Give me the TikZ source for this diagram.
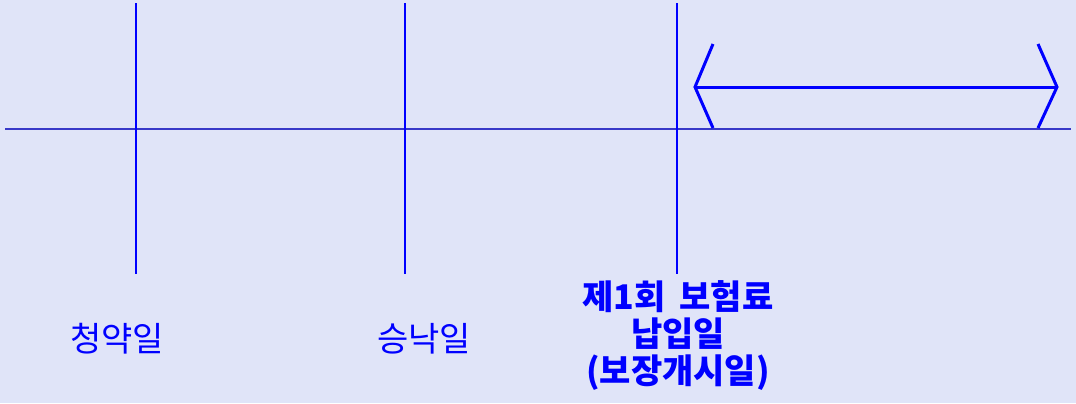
\documentclass[tikz,border=0pt]{standalone}
\usepackage{fontspec}
\newfontfamily\krfont{Noto Sans CJK KR}
\usepackage{xcolor}
\usepackage{tikz}
\usetikzlibrary{positioning}
\definecolor{paper}{RGB}{224,228,248}
\definecolor{axisblue}{RGB}{56,56,200}
\tikzstyle{every node}=[text=blue,font=\krfont\fontsize{17}{18.5}\selectfont,inner sep=0pt]
\tikzstyle{dateline}=[draw=blue,line width=0.75pt]
\tikzstyle{axis}=[draw=axisblue,line width=1pt]
\tikzstyle{period}=[draw=blue,line width=1.5pt,line join=miter]
\tikzstyle{datelabel}=[align=center]

\begin{document}
\begin{tikzpicture}[x=0.5pt,y=-0.5pt]
    \fill[paper] (0,0) rectangle (1076,403);
    \useasboundingbox (0,0) rectangle (1076,403);
    % time axis
    \coordinate (axis start) at (5,129);
    \coordinate (axis end) at (1071,129);
    \draw[axis] (axis start) -- (axis end);
    % dates
    \coordinate (apply top) at (136,3);
    \coordinate (apply bottom) at (136,274);
    \coordinate (accept top) at (405,3);
    \coordinate (accept bottom) at (405,274);
    \coordinate (pay top) at (677,3);
    \coordinate (pay bottom) at (677,274);
    \draw[dateline] (apply top) -- (apply bottom);
    \draw[dateline] (accept top) -- (accept bottom);
    \draw[dateline] (pay top) -- (pay bottom);
    \node[datelabel] (apply) at (117,339) {청약일};
    \node[datelabel] (accept) at (424,339) {승낙일};
    \node[datelabel,font=\krfont\bfseries\fontsize{17}{18.5}\selectfont] (pay) at (678,336)
        {제1회\hspace{0.4em}보험료\\납입일\\(보장개시일)};
    % coverage period
    \coordinate (cover left) at (695,87);
    \coordinate (cover right) at (1057,87);
    \draw[period] (cover left) -- (cover right);
    \draw[period] ([shift={(18,-43)}]cover left) -- (cover left) -- ([shift={(18,41)}]cover left);
    \draw[period] ([shift={(-19,-43)}]cover right) -- (cover right) -- ([shift={(-19,41)}]cover right);
\end{tikzpicture}
\end{document}
